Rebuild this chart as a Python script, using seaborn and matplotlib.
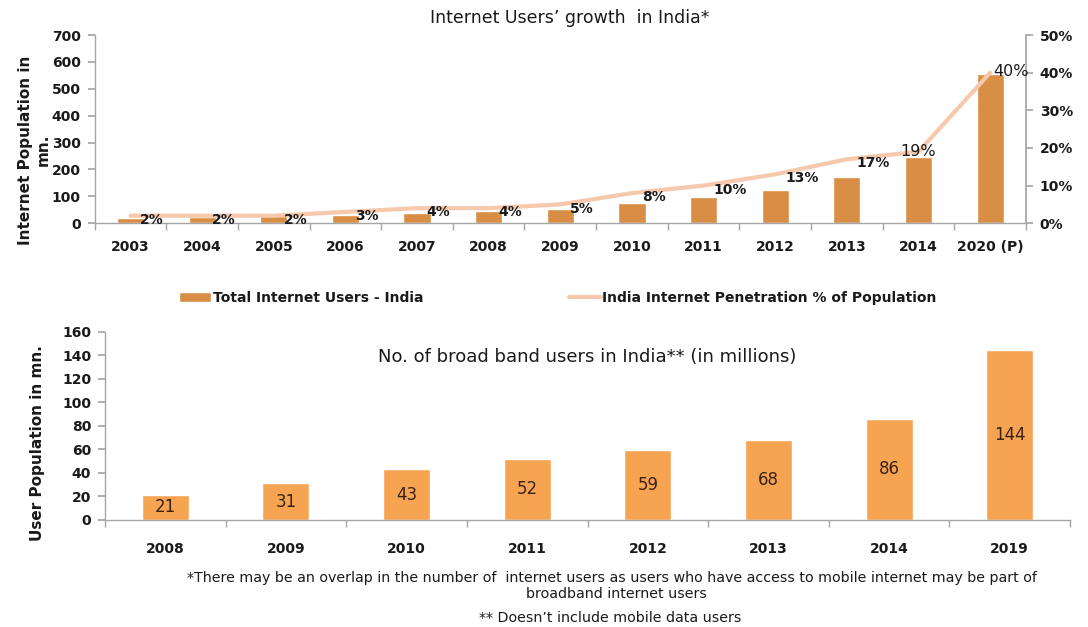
import numpy as np
import pandas as pd
import matplotlib
matplotlib.use("Agg")
import matplotlib.pyplot as plt
import seaborn as sns
from matplotlib.ticker import FixedLocator, PercentFormatter

# datos del grafico de arriba
years_top = ["2003", "2004", "2005", "2006", "2007", "2008", "2009",
             "2010", "2011", "2012", "2013", "2014", "2020 (P)"]
users_mn = [20, 22, 25, 29, 39, 47, 54, 76, 97, 122, 172, 246, 555]
penetration = [2, 2, 2, 3, 4, 4, 5, 8, 10, 13, 17, 19, 40]

# datos del grafico de abajo
years_bb = ["2008", "2009", "2010", "2011", "2012", "2013", "2014", "2019"]
broadband_mn = [21, 31, 43, 52, 59, 68, 86, 144]

sns.set_theme(style="white")
plt.rcParams['font.family'] = ['DejaVu Sans']

bar_top = "#D98E45"
bar_bot = "#F7A452"
line_col = "#F6C8AC"
grid_col = "#A6A6A6"
txt = "#1a1a1a"

fig = plt.figure(figsize=(10.88, 6.27), dpi=100)
ax1 = fig.add_axes([0.087, 0.644, 0.856, 0.30])
ax3 = fig.add_axes([0.0965, 0.171, 0.887, 0.30])

top = pd.DataFrame({"year": years_top, "users": users_mn, "pct": penetration})
bot = pd.DataFrame({"year": years_bb, "users": broadband_mn})

# barras usuarios totales
sns.barplot(data=top, x="year", y="users", color=bar_top, width=0.38,
            saturation=1, ax=ax1, label="Total Internet Users - India")
ax1.set_ylim(0, 700)
ax1.set_yticks(range(0, 701, 100))
ax1.set_xlim(-0.5, len(years_top) - 0.5)

ax2 = ax1.twinx()
top["pos"] = np.arange(len(years_top))
sns.lineplot(data=top, x="pos", y="pct", color=line_col, linewidth=3,
             ax=ax2, label="India Internet Penetration % of Population", legend=False)
ax2.set_ylim(0, 50)
ax2.set_yticks(range(0, 51, 10))
ax2.yaxis.set_major_formatter(PercentFormatter(decimals=0))
ax2.set_ylabel("")
ax2.set_xlim(-0.5, len(years_top) - 0.5)

for i, p in enumerate(penetration):
    if p == 40:
        off, ha, size, w = (2, 1), "left", 11.5, "normal"
    elif p == 19:
        off, ha, size, w = (0, 0), "center", 11.5, "normal"
    else:
        off, ha, size, w = (7, -3), "left", 10, "bold"
    ax2.annotate(f"{p}%", (i, p), xytext=off, textcoords="offset points",
                 ha=ha, va="center", fontsize=size, fontweight=w, color=txt)

ax1.set_xlabel("")
ax1.set_ylabel("Internet Population in\nmn.", fontsize=11, fontweight="bold",
               color=txt, linespacing=1.2)
ax1.yaxis.set_label_coords(-0.047, 0.39)

# barras banda ancha
sns.barplot(data=bot, x="year", y="users", color=bar_bot, width=0.39,
            saturation=1, ax=ax3)
ax3.set_ylim(0, 160)
ax3.set_yticks(range(0, 161, 20))
ax3.set_xlim(-0.5, len(years_bb) - 0.5)
ax3.bar_label(ax3.containers[0], label_type="center", fontsize=12, color="#3b2314")
ax3.set_xlabel("")
ax3.set_ylabel("User Population in mn.", fontsize=11, fontweight="bold", color=txt)
ax3.yaxis.set_label_coords(-0.062, 0.41)
ax3.text(0.5, 0.867, "No. of broad band users in India** (in millions)",
         transform=ax3.transAxes, ha="center", va="center", fontsize=13, color=txt)

# ejes estilo excel
for a, n, pd_ in [(ax1, len(years_top), 12), (ax3, len(years_bb), 16)]:
    for s in ["top", "right"]:
        a.spines[s].set_visible(False)
    for s in ["left", "bottom"]:
        a.spines[s].set_color(grid_col)
        a.spines[s].set_linewidth(1)
    a.tick_params(axis="x", which="major", length=0, labelsize=10, pad=pd_)
    a.xaxis.set_minor_locator(FixedLocator(np.arange(n + 1) - 0.5))
    a.tick_params(axis="x", which="minor", bottom=True, length=5, color=grid_col,
                  direction="out")
    a.tick_params(axis="y", left=True, length=5, color=grid_col, labelsize=10, pad=5)
    for lab in a.get_xticklabels() + a.get_yticklabels():
        lab.set_fontweight("bold")
        lab.set_color(txt)

for s in ["top", "left", "bottom"]:
    ax2.spines[s].set_visible(False)
ax2.spines["right"].set_color(grid_col)
ax2.tick_params(axis="y", right=True, length=5, color=grid_col, labelsize=10, pad=5)
for lab in ax2.get_yticklabels():
    lab.set_fontweight("bold")
    lab.set_color(txt)

# leyenda
h1, l1 = ax1.get_legend_handles_labels()
h2, l2 = ax2.get_legend_handles_labels()
if ax1.get_legend():
    ax1.get_legend().remove()
leg = fig.legend(h1 + h2, l1 + l2, loc="center", bbox_to_anchor=(0.513, 0.525),
                 ncol=2, frameon=False, handlelength=2.3, handletextpad=0.1,
                 columnspacing=10.5, prop={"weight": "bold", "size": 10})
for t in leg.get_texts():
    t.set_color(txt)

fig.text(0.524, 0.971, "Internet Users\u2019 growth  in India*", ha="center",
         va="center", fontsize=12.5, color=txt)
fig.text(0.562, 0.078, "*There may be an overlap in the number of  internet users as users who have access to mobile internet may be part of",
         ha="center", va="center", fontsize=10.3, color=txt)
fig.text(0.567, 0.053, "broadband internet users", ha="center", va="center",
         fontsize=10.3, color=txt)
fig.text(0.561, 0.014, "** Doesn\u2019t include mobile data users", ha="center",
         va="center", fontsize=10.3, color=txt)

fig.savefig("out.png", dpi=100, facecolor="white")
